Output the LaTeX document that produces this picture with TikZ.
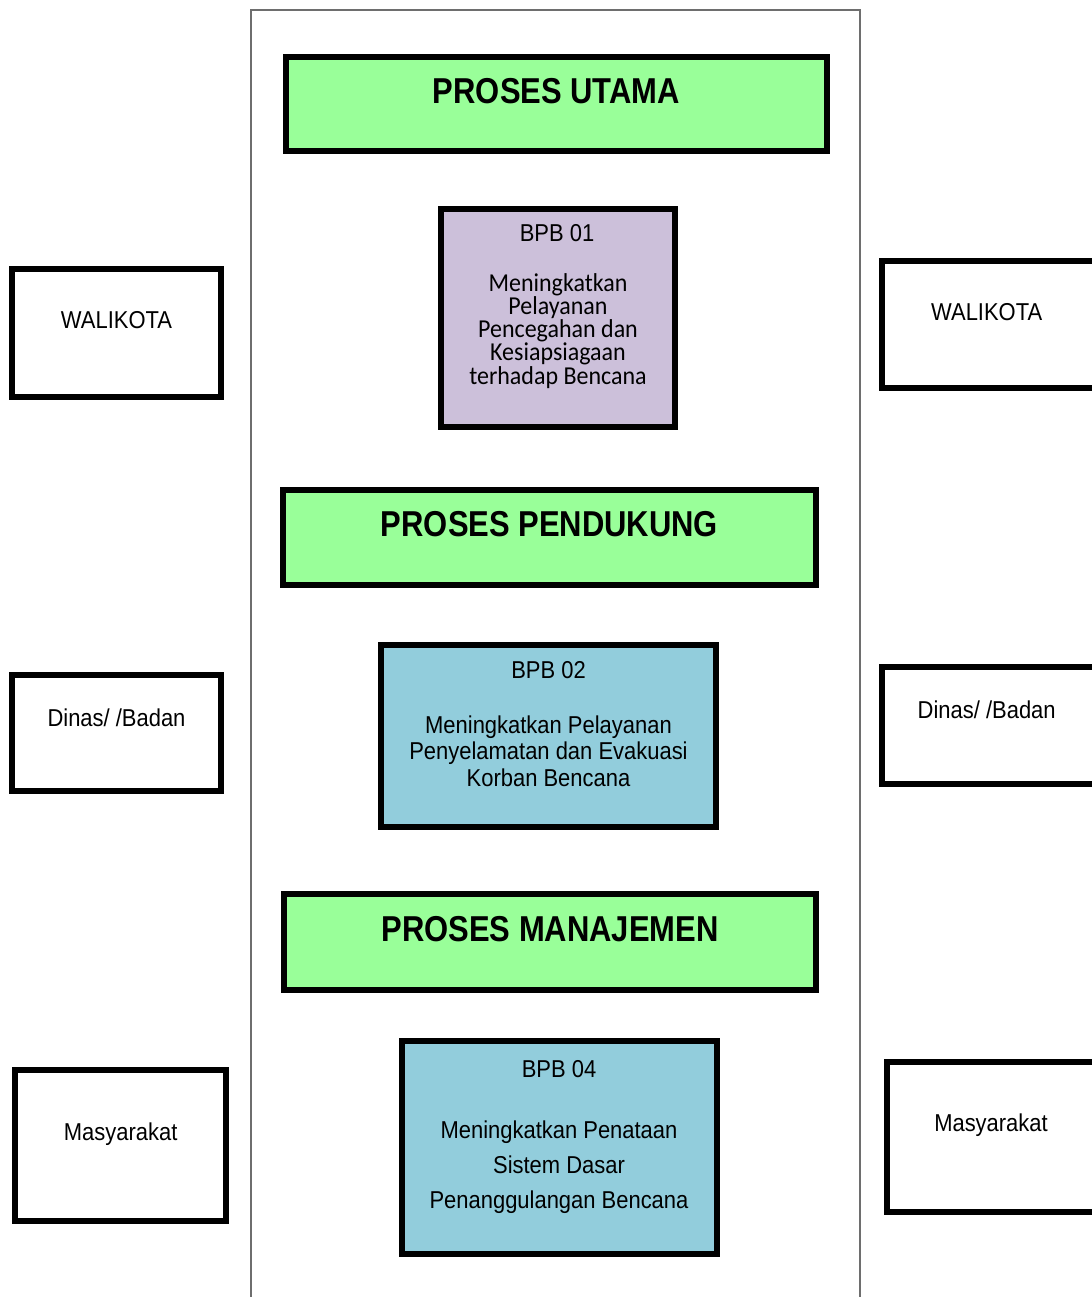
\documentclass[tikz,border=0pt]{standalone}
\usepackage{fontspec}
\setmainfont{Liberation Sans}[FakeStretch=0.9]
\newfontfamily\titlefont{Liberation Sans}[FakeStretch=0.86]
\newfontfamily\carlito{Carlito}[FakeStretch=0.93]
\usetikzlibrary{fit}
\definecolor{procgreen}{HTML}{99FF99}
\definecolor{lav}{HTML}{CCC0DA}
\definecolor{lblue}{HTML}{92CDDC}
\definecolor{framegray}{RGB}{110,110,110}
\tikzset{
  box/.style={draw=black, line width=2.6pt, inner sep=0pt, outer sep=0pt},
  greenbox/.style={box, fill=procgreen},
  lavbox/.style={box, fill=lav},
  bluebox/.style={box, fill=lblue},
  sidebox/.style={box, fill=white},
  titletext/.style={font=\titlefont\fontsize{18}{21}\selectfont\bfseries, anchor=base, inner sep=0pt},
  lbl/.style={font=\fontsize{12.2}{14}\selectfont, anchor=base, inner sep=0pt, align=center},
}
\begin{document}
\begin{tikzpicture}[x=0.5pt,y=-0.5pt]
\useasboundingbox (0,0) rectangle (1092,1297);
\clip (0,0) rectangle (1092,1297);
\fill[white] (0,0) rectangle (1092,1297);

% outer frame (open at bottom)
\coordinate (fbl) at (250.5,1310);
\coordinate (ftl) at (250.5,10);
\coordinate (ftr) at (859.5,10);
\coordinate (fbr) at (859.5,1310);
\draw[framegray, line width=1pt] (fbl) -- (ftl) -- (ftr) -- (fbr);

% PROSES UTAMA
\node[greenbox, fit={(286,57) (827,151)}] (utama) {};
\node[titletext] (utamat) at (556.5,103) {PROSES UTAMA};

% BPB 01
\node[lavbox, fit={(441,209) (675,427)}] (bpb1) {};
\node[lbl] (bpb1t) at (557,241) {BPB 01};
\node[lbl, font=\carlito\fontsize{12.9}{11.55}\selectfont] (bpb1d) at (558,384)
  {Meningkatkan\\Pelayanan\\Pencegahan dan\\Kesiapsiagaan\\terhadap Bencana};

% PROSES PENDUKUNG
\node[greenbox, fit={(283,490) (816,585)}] (pendukung) {};
\node[titletext] (pendukungt) at (549.5,536) {PROSES PENDUKUNG};

% BPB 02
\node[bluebox, fit={(381,645) (716,827)}] (bpb2) {};
\node[lbl, font=\fontsize{12.2}{13.25}\selectfont] (bpb2t) at (548.5,786)
  {BPB 02\\[14.25pt]Meningkatkan Pelayanan\\Penyelamatan dan Evakuasi\\Korban Bencana};

% PROSES MANAJEMEN
\node[greenbox, fit={(284,894) (816,990)}] (manajemen) {};
\node[titletext] (manajement) at (550,941) {PROSES MANAJEMEN};

% BPB 04
\node[bluebox, fit={(402,1041) (717,1254)}] (bpb4) {};
\node[lbl, font=\fontsize{12.2}{17.35}\selectfont] (bpb4t) at (559,1208)
  {BPB 04\\[13.45pt]Meningkatkan Penataan\\Sistem Dasar\\Penanggulangan Bencana};

% side boxes left
\node[sidebox, fit={(12,269) (221,397)}] (walL) {};
\node[lbl] (walLt) at (116.5,328) {WALIKOTA};
\node[sidebox, fit={(12,675) (221,791)}] (dinL) {};
\node[lbl] (dinLt) at (116.5,726) {Dinas/ /Badan};
\node[sidebox, fit={(15,1070) (226,1221)}] (masL) {};
\node[lbl] (masLt) at (120.7,1140) {Masyarakat};

% side boxes right (cut by the page edge)
\node[sidebox, fit={(882,261) (1096,388)}] (walR) {};
\node[lbl] (walRt) at (986.7,320) {WALIKOTA};
\node[sidebox, fit={(882,667) (1096,784)}] (dinR) {};
\node[lbl] (dinRt) at (986.7,718) {Dinas/ /Badan};
\node[sidebox, fit={(887,1062) (1098,1212)}] (masR) {};
\node[lbl] (masRt) at (991,1131.5) {Masyarakat};
\end{tikzpicture}
\end{document}
